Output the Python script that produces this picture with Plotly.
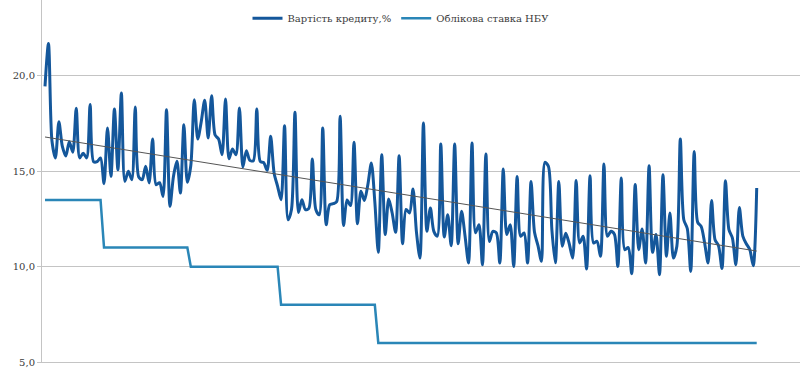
import numpy as np
import plotly.graph_objects as go

# Weekly observations, %
loan_cost = [
    19.45, 21.7, 16.6, 15.7, 17.6, 16.3, 15.8, 16.55, 16.0, 18.3,
    15.7, 15.95, 15.7, 18.5, 15.5, 15.5, 15.7, 14.35, 17.27, 14.73,
    18.27, 15.08, 19.1, 14.47, 15.0, 14.56, 18.37, 14.7, 14.56, 15.26,
    14.39, 16.69, 14.3, 14.4, 13.68, 18.23, 13.16, 14.73, 15.52, 13.86,
    17.44, 14.42, 15.3, 18.75, 16.69, 17.6, 18.72, 16.74, 18.96, 16.9,
    16.69, 15.87, 18.79, 15.65, 16.17, 15.87, 18.32, 15.22, 16.08, 15.57,
    15.55, 18.27, 15.52, 15.45, 15.05, 16.83, 14.9, 14.21, 13.51, 17.39,
    12.46, 13.0, 18.09, 12.84, 13.51, 12.99, 13.06, 15.65, 13.0, 12.72,
    17.27, 12.2, 13.25, 13.3, 13.4, 17.88, 12.16, 13.5, 13.2, 16.52,
    12.25, 13.95, 13.47, 14.3, 15.43, 13.4, 10.75, 15.87, 11.68, 13.55,
    12.81, 11.8, 15.82, 11.2, 13.0, 12.81, 14.07, 11.8, 10.45, 17.53,
    11.85, 13.08, 11.85, 11.6, 16.43, 11.55, 12.72, 11.1, 16.43, 11.2,
    12.9, 11.59, 10.19, 16.48, 11.77, 12.2, 10.1, 15.91, 11.32, 11.85,
    11.77, 10.19, 15.12, 11.68, 12.2, 10.01, 14.73, 11.59, 11.77, 10.19,
    14.47, 11.8, 11.1, 10.28, 15.47, 15.26, 11.94, 10.2, 14.47, 11.07,
    11.75, 11.2, 10.45, 14.52, 11.24, 11.6, 9.88, 14.77, 11.24, 11.33,
    10.54, 15.38, 11.59, 11.85, 11.7, 10.01, 14.65, 10.89, 11.0, 9.63,
    14.3, 10.89, 11.97, 10.19, 15.29, 10.75, 11.68, 9.58, 14.82, 10.54,
    12.81, 10.45, 11.07, 16.69, 12.46, 12.0, 9.75, 16.04, 12.32, 12.11,
    11.24, 10.19, 13.47, 11.41, 11.1, 9.9, 14.5, 11.94, 11.5, 10.1,
    13.1, 11.6, 11.2, 10.9, 10.05, 14.12,
]

# NBU discount rate: (level, number of weeks in force)
nbu_levels = [13.5, 11.0, 10.0, 8.0, 6.0]
nbu_weeks = [17, 25, 26, 28, 110]
nbu_rate = [lvl for lvl, n in zip(nbu_levels, nbu_weeks) for _ in range(n)]

weeks = list(range(len(loan_cost)))

# Linear trend of the loan cost series
slope, intercept = np.polyfit(weeks, loan_cost, 1)
trend = [intercept + slope * w for w in weeks]

series_names = ["Вартість кредиту,%", "Облікова ставка НБУ"]
y_ticks = [5, 10, 15, 20]

font_family = "DejaVu Serif"
text_color = "#3b3b3b"
grid_color = "#c4c4c4"

fig = go.Figure()
fig.add_trace(go.Scatter(
    x=weeks, y=loan_cost, mode="lines", name=series_names[0],
    line=dict(color="#14579b", width=3, shape="spline", smoothing=0.8),
))
fig.add_trace(go.Scatter(
    x=weeks, y=nbu_rate, mode="lines", name=series_names[1],
    line=dict(color="#2a86b7", width=2.5),
))
fig.add_trace(go.Scatter(
    x=weeks, y=trend, mode="lines", showlegend=False,
    line=dict(color="#555555", width=1),
))

fig.update_layout(
    width=802, height=368,
    margin=dict(l=42, r=2, t=0, b=6, autoexpand=False),
    paper_bgcolor="white", plot_bgcolor="white",
    separators=", ",
    font=dict(family=font_family, size=10, color=text_color),
    showlegend=True,
    legend=dict(
        orientation="h", xref="container", yref="container",
        x=0.5, y=0.99, xanchor="center", yanchor="top",
        font=dict(family=font_family, size=10, color=text_color),
        bgcolor="rgba(0,0,0,0)", itemwidth=30, tracegroupgap=0,
    ),
)
fig.update_xaxes(
    range=[-0.864, 217.47], showgrid=False, zeroline=False,
    showticklabels=False, ticks="", showline=True,
    linecolor=grid_color, linewidth=1,
)
fig.update_yaxes(
    range=[5, 23.98], tickvals=y_ticks, tickformat=".1f",
    showgrid=True, gridcolor=grid_color, gridwidth=1,
    zeroline=False, showline=True, linecolor=grid_color, linewidth=1,
    ticks="outside", ticklen=4, tickcolor=grid_color,
    tickfont=dict(family=font_family, size=10, color=text_color),
)

fig.write_html("out.html")
